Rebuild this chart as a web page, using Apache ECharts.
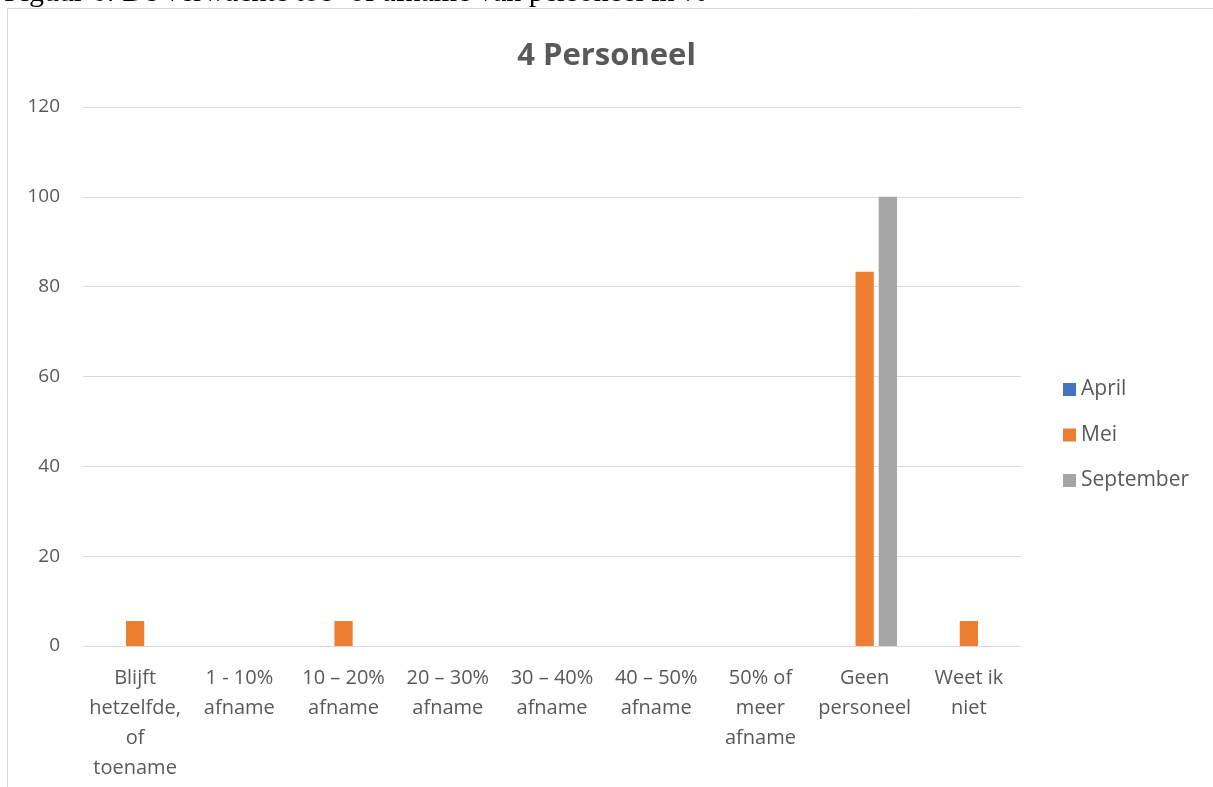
<!DOCTYPE html>
<html>
<head>
<meta charset="utf-8">
<script src="https://cdn.jsdelivr.net/npm/echarts@6/dist/echarts.min.js"></script>
<style>
html,body{margin:0;padding:0;background:#fff;}
#chart{width:1213px;height:787px;}
</style>
</head>
<body>
<div id="chart"></div>
<script>
const categories = [
  "Blijft\nhetzelfde,\nof\ntoename",
  "1 - 10%\nafname",
  "10 – 20%\nafname",
  "20 – 30%\nafname",
  "30 – 40%\nafname",
  "40 – 50%\nafname",
  "50% of\nmeer\nafname",
  "Geen\npersoneel",
  "Weet ik\nniet"
];
const seriesNames = ["April", "Mei", "September"];
const aprilValues = [0, 0, 0, 0, 0, 0, 0, 0, 0];
const meiValues = [5.56, 0, 5.56, 0, 0, 0, 0, 83.33, 5.56];
const septemberValues = [0, 0, 0, 0, 0, 0, 0, 100, 0];
const chartTitle = "4 Personeel";
const captionText = "Figuur 6: De verwachte toe- of afname van personeel in %";

const colors = ["#4472C4", "#ED7D31", "#A5A5A5"];
const chart = echarts.init(document.getElementById('chart'), null, {renderer: 'canvas'});
const font = "'Open Sans', 'Noto Sans', sans-serif";
chart.setOption({
  animation: false,
  color: colors,
  textStyle: {fontFamily: font},
  title: {
    text: chartTitle,
    left: 'center',
    top: 36,
    textStyle: {fontSize: 31, fontWeight: 'bold', color: '#595959', fontFamily: font}
  },
  graphic: [
    {type: 'rect', shape: {x: 7.5, y: 8.5, width: 1300, height: 900}, style: {fill: 'none', stroke: '#D9D9D9', lineWidth: 1}, z: -1},
    {type: 'text', left: 4, top: -22, z: 10, style: {text: captionText, font: "30px 'Liberation Serif', 'Times New Roman', serif", fill: '#000'}}
  ],
  legend: {
    orient: 'vertical',
    left: 1063,
    top: 379,
    padding: 0,
    itemWidth: 13,
    itemHeight: 13,
    itemGap: 24.5,
    icon: 'rect',
    textStyle: {fontSize: 21, color: '#595959', fontFamily: font},
    data: seriesNames
  },
  grid: {left: 83, right: 192, top: 107, bottom: 141, containLabel: false},
  xAxis: {
    type: 'category',
    data: categories,
    axisLine: {lineStyle: {color: '#D9D9D9', width: 1}},
    axisTick: {show: false},
    axisLabel: {interval: 0, fontSize: 20, color: '#595959', lineHeight: 30, margin: 17, fontFamily: font}
  },
  yAxis: {
    type: 'value',
    min: 0, max: 120, interval: 20,
    axisLine: {show: false},
    axisTick: {show: false},
    splitLine: {lineStyle: {color: '#D9D9D9', width: 1}},
    axisLabel: {fontSize: 19, color: '#595959', margin: 23, fontFamily: font}
  },
  series: [
    {name: seriesNames[0], type: 'bar', data: aprilValues, barGap: '27%', barCategoryGap: '38%'},
    {name: seriesNames[1], type: 'bar', data: meiValues, barGap: '27%', barCategoryGap: '38%'},
    {name: seriesNames[2], type: 'bar', data: septemberValues, barGap: '27%', barCategoryGap: '38%'}
  ]
});
</script>
</body>
</html>
